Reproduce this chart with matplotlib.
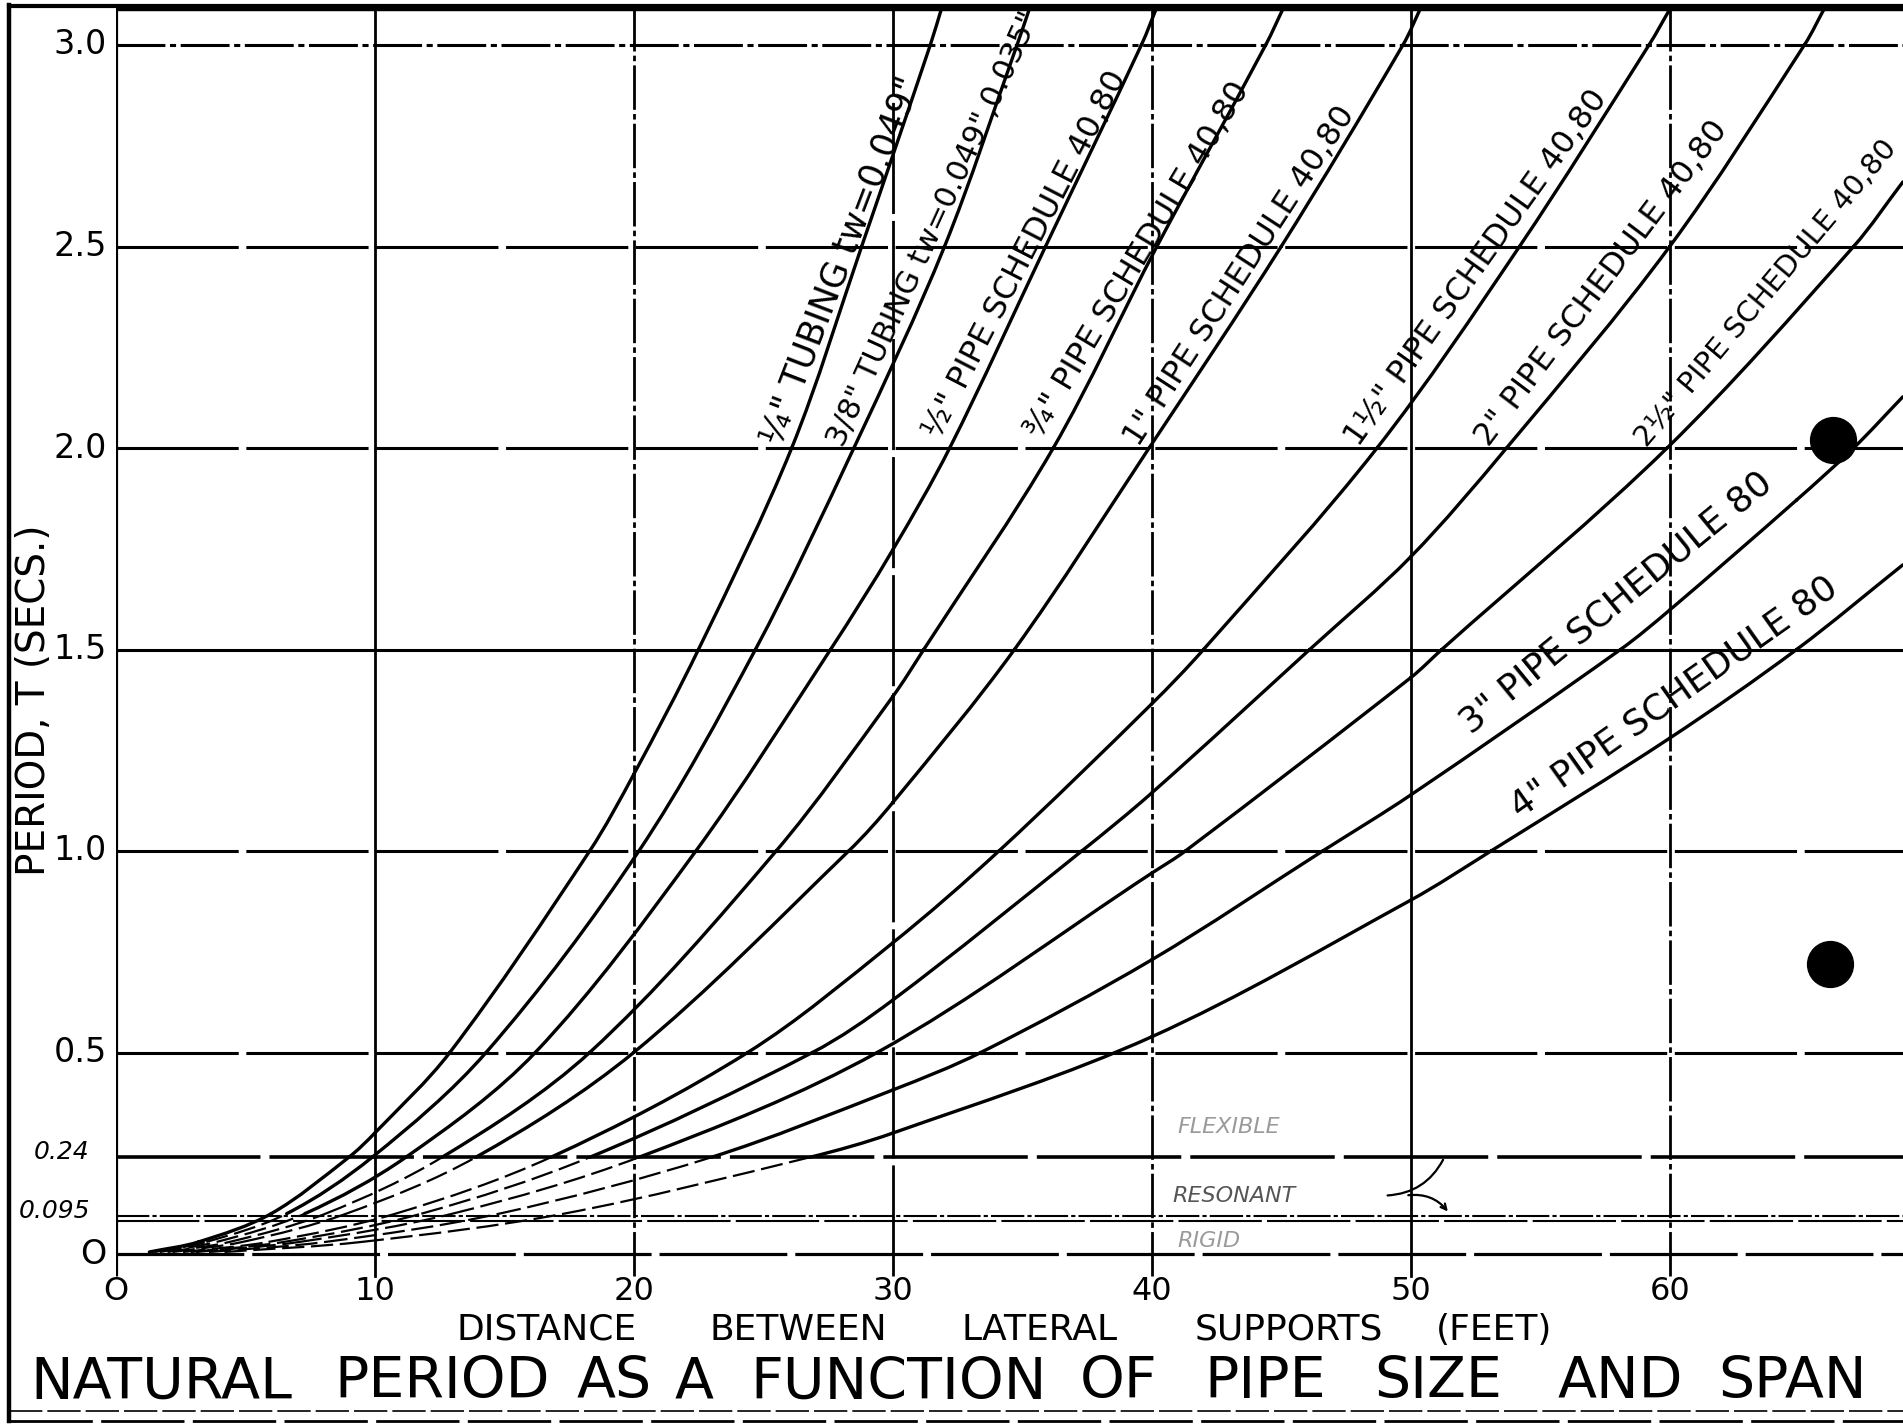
import matplotlib
matplotlib.use("Agg")
import matplotlib.pyplot as plt
import numpy as np
from matplotlib.lines import Line2D
from matplotlib.path import Path
from matplotlib.patches import PathPatch

# ---------------- data ----------------
curve_labels = [
    '¼" TUBING tw=0.049"',
    '3/8" TUBING tw=0.049",0.035"',
    '½" PIPE SCHEDULE 40,80',
    '¾" PIPE SCHEDULE 40,80',
    '1" PIPE SCHEDULE 40,80',
    '1½" PIPE SCHEDULE 40,80',
    '2" PIPE SCHEDULE 40,80',
    '2½" PIPE SCHEDULE 40,80',
    '3" PIPE SCHEDULE 80',
    '4" PIPE SCHEDULE 80',
]

span_c1 = [1.3, 3.2, 6.0, 9.0, 10.0, 12.9, 18.3, 20.0, 22.5, 26.1, 28.8, 31.45, 31.9]
period_c1 = [0.005, 0.03, 0.1, 0.24, 0.30, 0.5, 1.0, 1.19, 1.5, 2.0, 2.5, 3.0, 3.094]
span_c2 = [1.5, 3.5, 6.6, 9.9, 14.3, 20.2, 24.7, 28.5, 32.0, 34.8, 35.3]
period_c2 = [0.005, 0.03, 0.1, 0.24, 0.5, 1.0, 1.5, 2.0, 2.5, 3.0, 3.094]
span_c3 = [1.7, 3.9, 7.3, 11.2, 16.2, 22.4, 27.6, 30.0, 32.2, 35.9, 39.6, 40.2]
period_c3 = [0.005, 0.03, 0.1, 0.24, 0.5, 1.0, 1.5, 1.747, 2.0, 2.5, 3.0, 3.094]
span_c4 = [2.0, 4.4, 8.1, 12.6, 18.3, 25.5, 30.0, 31.2, 36.2, 40.2, 44.4, 45.1]
period_c4 = [0.005, 0.03, 0.1, 0.24, 0.5, 1.0, 1.383, 1.5, 2.0, 2.5, 3.0, 3.094]
span_c5 = [2.2, 4.9, 8.9, 13.9, 20.0, 28.3, 30.0, 34.7, 39.9, 45.0, 49.7, 50.4]
period_c5 = [0.005, 0.03, 0.1, 0.24, 0.5, 1.0, 1.12, 1.5, 2.0, 2.5, 3.0, 3.094]
span_c6 = [2.6, 5.9, 10.8, 16.8, 24.4, 30.0, 34.1, 40.0, 42.0, 48.7, 54.2, 59.2, 60.05]
period_c6 = [0.005, 0.03, 0.1, 0.24, 0.5, 0.772, 1.0, 1.365, 1.5, 2.0, 2.5, 3.0, 3.094]
span_c7 = [2.9, 6.5, 11.8, 18.3, 26.9, 30.0, 37.3, 40.0, 46.1, 50.0, 53.7, 60.0, 65.2, 66.0]
period_c7 = [0.005, 0.03, 0.1, 0.24, 0.5, 0.63, 1.0, 1.144, 1.5, 1.73, 2.0, 2.5, 3.0, 3.094]
span_c8 = [3.1, 7.1, 13.0, 20.2, 29.4, 40.0, 41.3, 50.0, 51.2, 59.9, 67.1, 69.0]
period_c8 = [0.005, 0.03, 0.1, 0.24, 0.5, 0.945, 1.0, 1.43, 1.5, 2.0, 2.5, 2.66]
span_c9 = [3.6, 8.1, 14.8, 23.0, 30.0, 33.4, 40.0, 46.6, 50.0, 58.1, 60.0, 64.9, 67.1, 69.0]
period_c9 = [0.005, 0.03, 0.1, 0.24, 0.407, 0.5, 0.73, 1.0, 1.139, 1.5, 1.598, 1.871, 2.0, 2.127]
span_c10 = [4.2, 9.5, 17.3, 26.8, 30.0, 40.0, 50.0, 53.1, 60.0, 64.9, 69.0]
period_c10 = [0.005, 0.03, 0.1, 0.24, 0.30, 0.539, 0.878, 1.0, 1.28, 1.5, 1.71]

spans = [span_c1, span_c2, span_c3, span_c4, span_c5,
         span_c6, span_c7, span_c8, span_c9, span_c10]
periods = [period_c1, period_c2, period_c3, period_c4, period_c5,
           period_c6, period_c7, period_c8, period_c9, period_c10]
# below this period each curve is drawn as a broken (dashed) line
dash_below = [0.0, 0.1, 0.1, 0.24, 0.24, 0.24, 0.24, 0.24, 0.24, 0.24]

x_ticks = [0, 10, 20, 30, 40, 50, 60]
x_ticklabels = ["O", "10", "20", "30", "40", "50", "60"]
y_ticks = [0.5, 1.0, 1.5, 2.0, 2.5, 3.0]
y_ticklabels = ["0.5", "1.0", "1.5", "2.0", "2.5", "3.0"]
zone_limits = [0.24, 0.095]
zone_limit_labels = ["0.24", "0.095"]

# label anchors (span, period, angle, size)
label_span = [25.7, 28.1, 31.8, 35.7, 39.5, 48.0, 53.0, 59.1, 52.3, 54.2]
label_period = [2.0, 2.0, 2.02, 2.02, 2.0, 2.0, 2.0, 2.0, 1.29, 1.08]
label_angle = [69.0, 65.5, 62.7, 59.2, 57.0, 54.5, 53.0, 50.0, 39.3, 35.3]
label_size = [25, 22, 23, 23, 23, 23, 23, 21, 26, 26]

holes_span = [66.3, 66.2]
holes_period = [2.02, 0.72]

title_words = ["NATURAL", "PERIOD", "AS", "A", "FUNCTION", "OF", "PIPE", "SIZE", "AND", "SPAN"]
title_word_x = [161, 442, 614, 694, 899, 1119, 1265, 1438, 1620, 1793]
xlabel_words = ["DISTANCE", "BETWEEN", "LATERAL", "SUPPORTS", "(FEET)"]
xlabel_word_x = [547, 798, 1040, 1289, 1494]

# ---------------- figure ----------------
W, H = 1903, 1426
fig = plt.figure(figsize=(W / 100, H / 100), dpi=100)
fig.patch.set_facecolor("white")

x0_px, x_per_ft = 115.7, 25.9
y0_px, y_per_unit = 1254.0, 403.0
xmax = (W - x0_px) / x_per_ft
ytop_px = 7.0
ybot_px = 1280.0
ymax = (y0_px - ytop_px) / y_per_unit
ymin = (y0_px - ybot_px) / y_per_unit

ax = fig.add_axes([x0_px / W, (H - ybot_px) / H, 1 - x0_px / W, (ybot_px - ytop_px) / H])
ax.set_xlim(0, xmax)
ax.set_ylim(ymin, ymax)
for s in ax.spines.values():
    s.set_visible(False)
ax.set_xticks([])
ax.set_yticks([])

K = "black"
font = "DejaVu Sans"
DD = (0, (16, 1.5, 2, 1.5))
LD = (0, (40, 2.5))

# vertical grid lines
vstyles = {10: "-", 20: DD, 30: LD, 40: DD, 50: "-", 60: DD}
ax.plot([0, 0], [ymin + 0.01, ymax], color=K, lw=2.3, solid_capstyle="butt")
for xv in x_ticks[1:]:
    ax.plot([xv, xv], [ymin + 0.01, ymax], color=K, lw=2.0, ls=vstyles[xv])

# horizontal grid lines
hstyles = {0.5: LD, 1.0: LD, 1.5: "-", 2.0: LD, 2.5: LD, 3.0: DD}
for yv in y_ticks:
    ax.axhline(yv, color=K, lw=2.2, ls=hstyles[yv])
ax.axhline(0.0, color=K, lw=2.3, ls=LD)
ax.axhline(zone_limits[0], color=K, lw=2.6, ls=LD)
ax.axhline(zone_limits[1], color=K, lw=1.5, ls=DD)
ax.axhline(zone_limits[1] - 0.012, color=K, lw=1.5, ls=LD)
ax.axhline(ymax - 0.004, color=K, lw=3.2)


# curves drawn as smooth cubic paths through the read points
def bezier_segments(xs, ys):
    p = np.column_stack([np.asarray(xs) * x_per_ft, np.asarray(ys) * y_per_unit])
    n = len(p)
    d = np.linalg.norm(np.diff(p, axis=0), axis=1)
    m = np.zeros_like(p)
    m[0] = (p[1] - p[0]) / d[0]
    m[-1] = (p[-1] - p[-2]) / d[-1]
    for i in range(1, n - 1):
        m[i] = (p[i + 1] - p[i - 1]) / (d[i - 1] + d[i])
    segs = []
    for i in range(n - 1):
        c1 = p[i] + m[i] * d[i] / 3.0
        c2 = p[i + 1] - m[i + 1] * d[i] / 3.0
        seg = np.array([p[i], c1, c2, p[i + 1]])
        seg[:, 0] /= x_per_ft
        seg[:, 1] /= y_per_unit
        segs.append(seg)
    return segs


def make_path(segs):
    verts, codes = [], []
    for seg in segs:
        verts += [tuple(seg[0]), tuple(seg[1]), tuple(seg[2]), tuple(seg[3])]
        codes += [Path.MOVETO, Path.CURVE4, Path.CURVE4, Path.CURVE4]
    return Path(verts, codes)


for xs, ys, brk in zip(spans, periods, dash_below):
    segs = bezier_segments(xs, ys)
    solid = [s for s, y1 in zip(segs, ys[1:]) if y1 > brk + 1e-9]
    broken = [s for s, y1 in zip(segs, ys[1:]) if y1 <= brk + 1e-9]
    ax.add_patch(PathPatch(make_path(solid), fill=False, ec=K, lw=2.4,
                           capstyle="round", joinstyle="round"))
    if broken:
        ax.add_patch(PathPatch(make_path(broken), fill=False, ec=K, lw=1.6, ls=(0, (10, 3))))

# curve labels
for txt, lx, ly, ang, fs in zip(curve_labels, label_span, label_period, label_angle, label_size):
    ax.text(lx, ly, txt, rotation=ang, rotation_mode="anchor", ha="left", va="baseline",
            fontsize=fs, family=font, color=K)

# holes
ax.plot(holes_span, holes_period, "o", color=K, ms=33, clip_on=False)

# zone words
ax.text(41.0, 0.30, "FLEXIBLE", fontsize=16, style="italic", color="#9a9a9a", family=font)
ax.text(40.8, 0.13, "RESONANT", fontsize=16, style="italic", color="#555555", family=font)
ax.text(41.0, 0.018, "RIGID", fontsize=16, style="italic", color="#9a9a9a", family=font)
ax.annotate("", xy=(51.3, 0.24), xytext=(49.0, 0.145),
            arrowprops=dict(arrowstyle="-", color=K, lw=1.6, connectionstyle="arc3,rad=0.3"))
ax.annotate("", xy=(51.5, 0.10), xytext=(49.8, 0.145),
            arrowprops=dict(arrowstyle="->", color=K, lw=1.6, connectionstyle="arc3,rad=-0.3"))

# tick labels
for xv, lab in zip(x_ticks, x_ticklabels):
    ax.text(xv, -0.055, lab, ha="center", va="top", fontsize=23, family=font, clip_on=False)
for yv, lab in zip(y_ticks, y_ticklabels):
    ax.text(-0.35, yv, lab, ha="right", va="center", fontsize=24, family=font, clip_on=False)
ax.text(-0.35, 0.0, "O", ha="right", va="center", fontsize=24, family=font, clip_on=False)
for yv, lab in zip(zone_limits, zone_limit_labels):
    ax.text(-1.0, yv + 0.012, lab, ha="right", va="center", fontsize=18, family=font,
            style="italic", clip_on=False)

# axis titles
for w, xp in zip(xlabel_words, xlabel_word_x):
    fig.text(xp / W, 1 - 1330 / H, w, ha="center", va="center", fontsize=26, family=font)
fig.text(34 / W, 1 - 700 / H, "PERIOD, T (SECS.)", rotation=90, ha="center", va="center",
         fontsize=28, family=font)
for w, xp in zip(title_words, title_word_x):
    fig.text(xp / W, 1 - 1383 / H, w, ha="center", va="center", fontsize=41, family=font)

# frame
fig.add_artist(Line2D([9 / W, 9 / W], [1 - 5 / H, 1 - 1421 / H], color=K, lw=3.2))
fig.add_artist(Line2D([9 / W, 1.0], [1 - 1421 / H, 1 - 1421 / H], color=K, lw=2.0, ls=(0, (30, 3))))
fig.add_artist(Line2D([9 / W, 1.0], [1 - 1411 / H, 1 - 1411 / H], color=K, lw=1.2, ls=(0, (20, 3))))
fig.add_artist(Line2D([9 / W, 1.0], [1 - 6 / H, 1 - 6 / H], color=K, lw=3.0))

fig.savefig("out.png", dpi=100, facecolor="white")
